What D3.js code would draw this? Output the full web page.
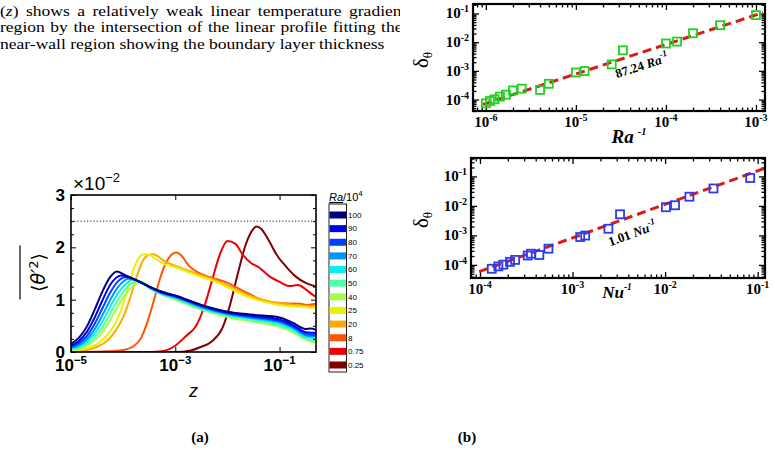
<!DOCTYPE html>
<html>
<head>
<meta charset="utf-8">
<script src="https://cdn.jsdelivr.net/npm/d3@7"></script>
<style>
  body { margin: 0; background: #fff; }
  text { fill: #000; }
</style>
</head>
<body>
<svg id="fig" width="775" height="450"></svg>
<script>
// ---------------- data ----------------
const bodyLines = [
  ['(', 'z', ') shows a relatively weak linear temperature gradient in the bulk'],
  ['', '', 'region by the intersection of the linear profile fitting the bulk and the'],
  ['', '', 'near-wall region showing the boundary layer thickness']
];
const bodySpacing = [2.6, 1.0, 0]; // justified text: extra word spacing per line

// panel (a): colour legend, Ra/10^4
const raLabels = ['100', '90', '80', '70', '60', '50', '40', '25', '20', '8', '0.75', '0.25'];
const raColors = ['#00007f', '#0000f0', '#0040ff', '#0094ff', '#08eeee', '#50ffa8',
                  '#a0ff48', '#eaf200', '#ffaa00', '#ff5500', '#ee0000', '#800000'];

// <θ'²> profiles (×10^-2) as [log10 z, value]
const prof100 = [[-5.0,0.16],[-4.85,0.27],[-4.7,0.48],[-4.55,0.80],[-4.4,1.15],[-4.25,1.43],[-4.12,1.54],[-3.98,1.48],[-3.85,1.42],[-3.7,1.35],[-3.5,1.25],[-3.25,1.15],[-3.0,1.08],[-2.5,0.90],[-2.0,0.77],[-1.5,0.71],[-1.0,0.66],[-0.75,0.56],[-0.5,0.44],[-0.4,0.45],[-0.3,0.42]];
const prof90 = [[-5.0,0.12],[-4.85,0.21],[-4.7,0.38],[-4.55,0.65],[-4.4,0.98],[-4.25,1.28],[-4.1,1.44],[-4.02,1.46],[-3.9,1.43],[-3.75,1.37],[-3.5,1.25],[-3.25,1.14],[-3.0,1.07],[-2.5,0.89],[-2.0,0.76],[-1.5,0.69],[-1.0,0.62],[-0.75,0.52],[-0.5,0.38],[-0.4,0.37],[-0.3,0.36]];
const prof80 = [[-5.0,0.10],[-4.85,0.17],[-4.7,0.30],[-4.55,0.53],[-4.4,0.83],[-4.25,1.13],[-4.1,1.35],[-3.96,1.43],[-3.85,1.41],[-3.7,1.35],[-3.5,1.24],[-3.25,1.13],[-3.0,1.06],[-2.5,0.88],[-2.0,0.74],[-1.5,0.67],[-1.0,0.59],[-0.75,0.49],[-0.5,0.35],[-0.4,0.33],[-0.3,0.32]];
const prof70 = [[-5.0,0.08],[-4.85,0.13],[-4.7,0.24],[-4.55,0.43],[-4.4,0.70],[-4.25,0.99],[-4.1,1.24],[-3.97,1.37],[-3.88,1.40],[-3.75,1.37],[-3.5,1.24],[-3.25,1.12],[-3.0,1.05],[-2.5,0.86],[-2.0,0.73],[-1.5,0.65],[-1.0,0.57],[-0.75,0.47],[-0.5,0.32],[-0.4,0.30],[-0.3,0.29]];
const prof60 = [[-5.0,0.06],[-4.85,0.10],[-4.7,0.19],[-4.55,0.35],[-4.4,0.58],[-4.25,0.86],[-4.1,1.12],[-3.95,1.30],[-3.82,1.38],[-3.7,1.36],[-3.5,1.24],[-3.25,1.11],[-3.0,1.03],[-2.5,0.84],[-2.0,0.71],[-1.5,0.63],[-1.0,0.54],[-0.75,0.44],[-0.5,0.29],[-0.4,0.27],[-0.3,0.26]];
const prof50 = [[-5.0,0.05],[-4.85,0.08],[-4.7,0.15],[-4.55,0.28],[-4.4,0.47],[-4.25,0.73],[-4.1,1.00],[-3.95,1.21],[-3.82,1.32],[-3.74,1.35],[-3.62,1.33],[-3.5,1.22],[-3.25,1.10],[-3.0,1.02],[-2.5,0.83],[-2.0,0.69],[-1.5,0.61],[-1.0,0.51],[-0.75,0.41],[-0.5,0.26],[-0.4,0.23],[-0.3,0.22]];
const prof40 = [[-5.0,0.04],[-4.85,0.06],[-4.7,0.12],[-4.55,0.22],[-4.4,0.38],[-4.25,0.61],[-4.1,0.88],[-3.95,1.11],[-3.8,1.27],[-3.68,1.33],[-3.58,1.31],[-3.45,1.20],[-3.25,1.09],[-3.0,1.00],[-2.5,0.81],[-2.0,0.67],[-1.5,0.58],[-1.0,0.48],[-0.75,0.38],[-0.5,0.24],[-0.4,0.20],[-0.3,0.18]];
const prof25 = [[-5.0,0.02],[-4.7,0.07],[-4.5,0.15],[-4.3,0.33],[-4.15,0.55],[-4.05,0.77],[-3.93,1.15],[-3.81,1.55],[-3.7,1.80],[-3.6,1.87],[-3.5,1.86],[-3.4,1.80],[-3.25,1.70],[-3.0,1.62],[-2.6,1.47],[-2.2,1.33],[-1.9,1.19],[-1.6,1.05],[-1.3,0.96],[-1.0,0.90],[-0.7,0.87],[-0.5,0.86],[-0.3,0.84]];
const prof20 = [[-5.0,0.01],[-4.7,0.04],[-4.5,0.10],[-4.3,0.22],[-4.15,0.40],[-4.0,0.66],[-3.85,1.08],[-3.72,1.50],[-3.6,1.78],[-3.5,1.86],[-3.42,1.87],[-3.32,1.82],[-3.2,1.73],[-3.0,1.65],[-2.6,1.50],[-2.2,1.36],[-1.9,1.23],[-1.6,1.09],[-1.3,0.99],[-1.0,0.93],[-0.7,0.90],[-0.5,0.88],[-0.3,0.87]];
const prof8 = [[-5.0,0.0],[-4.4,0.01],[-4.0,0.04],[-3.8,0.11],[-3.65,0.28],[-3.5,0.68],[-3.4,1.02],[-3.3,1.38],[-3.18,1.70],[-3.06,1.87],[-2.98,1.90],[-2.88,1.84],[-2.75,1.66],[-2.6,1.54],[-2.4,1.45],[-2.2,1.39],[-2.0,1.32],[-1.8,1.22],[-1.6,1.12],[-1.4,1.02],[-1.2,0.96],[-0.9,0.93],[-0.6,0.92],[-0.45,0.90],[-0.3,0.92]];
const prof075 = [[-5.0,0.0],[-3.6,0.0],[-3.3,0.01],[-3.0,0.12],[-2.8,0.30],[-2.6,0.50],[-2.45,0.85],[-2.3,1.35],[-2.15,1.85],[-2.0,2.12],[-1.85,2.07],[-1.7,1.85],[-1.55,1.70],[-1.4,1.62],[-1.2,1.45],[-1.0,1.34],[-0.8,1.26],[-0.65,1.28],[-0.5,1.20],[-0.4,1.12],[-0.3,1.05]];
const prof025 = [[-5.0,0.0],[-3.0,0.0],[-2.7,0.03],[-2.5,0.10],[-2.3,0.20],[-2.1,0.45],[-1.95,0.90],[-1.8,1.50],[-1.65,2.05],[-1.52,2.33],[-1.44,2.40],[-1.35,2.35],[-1.2,2.12],[-1.05,1.85],[-0.9,1.66],[-0.7,1.45],[-0.5,1.32],[-0.3,1.25]];
const profiles = [prof100, prof90, prof80, prof70, prof60, prof50, prof40, prof25, prof20, prof8, prof075, prof025];
const refLevel = 2.5;
const yTicksA = [0, 1, 2, 3];
const xTicksA = [-5, -3, -1];

// panel (b): boundary-layer thickness
const raInv = [1.0e-6, 1.11e-6, 1.25e-6, 1.43e-6, 1.67e-6, 2.0e-6, 2.5e-6, 4.0e-6, 5.0e-6,
               1.0e-5, 1.25e-5, 2.5e-5, 3.33e-5, 1.0e-4, 1.33e-4, 2.0e-4, 4.0e-4, 1.0e-3];
const nuInv = [1.34e-4, 1.58e-4, 1.79e-4, 2.11e-4, 2.40e-4, 3.28e-4, 3.56e-4, 4.38e-4, 5.49e-4,
               1.21e-3, 1.37e-3, 2.44e-3, 3.26e-3, 1.02e-2, 1.28e-2, 1.83e-2, 3.33e-2, 8.3e-2];
const deltaTheta = [7.4e-5, 8.9e-5, 1.02e-4, 1.27e-4, 1.48e-4, 2.08e-4, 2.4e-4, 2.17e-4, 3.55e-4,
                    8.8e-4, 9.9e-4, 1.68e-3, 5.2e-3, 9.0e-3, 1.05e-2, 2.05e-2, 3.9e-2, 8.8e-2];
const fitRa = [[9.3e-7, 6.8e-5], [1.2e-3, 0.107]];
const fitNu = [[9.8e-5, 5.9e-5], [0.12, 0.19]];
const fitRaLabel = { at: [5.6e-5, 1.1e-3], num: '87.24 ', sym: 'Ra', exp: '-1' };
const fitNuLabel = { at: [4.6e-3, 8.4e-4], num: '1.01 ', sym: 'Nu', exp: '-1' };

// ---------------- drawing ----------------
const svg = d3.select('#fig');
const SANS = 'Liberation Sans, Arial, Helvetica, sans-serif';
const SERIF = 'Liberation Serif, Times New Roman, serif';

// text with a raised exponent
function supText(g, x, y, base, sup, o) {
  const t = g.append('text')
    .attr('x', x).attr('y', y)
    .attr('text-anchor', o.anchor || 'middle')
    .attr('font-family', o.family)
    .attr('font-weight', o.weight || 'normal')
    .attr('font-size', o.size)
    .attr('fill', o.fill || '#000');
  t.append('tspan').attr('font-style', o.baseStyle || 'normal').text(base);
  t.append('tspan').attr('dy', -o.rise).attr('font-size', o.supSize)
    .attr('font-style', o.supStyle || 'normal').text(sup);
  return t;
}

// body text, cut off by the figure on the right
svg.append('clipPath').attr('id', 'clipText')
  .append('rect').attr('x', 0).attr('y', 0).attr('width', 400).attr('height', 60);
const gText = svg.append('g').attr('clip-path', 'url(#clipText)')
  .append('g').attr('transform', 'scale(1.17,1)');
bodyLines.forEach((l, i) => {
  const t = gText.append('text')
    .attr('x', 0).attr('y', 16 + i * 16.3)
    .attr('word-spacing', bodySpacing[i])
    .attr('font-family', SERIF).attr('font-size', 15);
  t.append('tspan').text(l[0]);
  t.append('tspan').attr('font-style', 'italic').text(l[1]);
  t.append('tspan').text(l[2]);
});

// ---------- panel (a) ----------
const A = { left: 71, right: 316, top: 195, bottom: 352 };
const xa = d3.scaleLog([1e-5, 0.5], [A.left, A.right]);
const ya = d3.scaleLinear([0, 3], [A.bottom, A.top]);
const ga = svg.append('g');

ga.append('clipPath').attr('id', 'clipA').append('rect')
  .attr('x', A.left).attr('y', A.top)
  .attr('width', A.right - A.left).attr('height', A.bottom - A.top);

ga.append('line')
  .attr('x1', A.left).attr('x2', A.right)
  .attr('y1', ya(refLevel)).attr('y2', ya(refLevel))
  .attr('stroke', '#222').attr('stroke-width', 1).attr('stroke-dasharray', '1.2,2');

const lineA = d3.line()
  .x((d) => xa(Math.pow(10, d[0])))
  .y((d) => ya(d[1]))
  .curve(d3.curveMonotoneX);

ga.append('g').attr('clip-path', 'url(#clipA)')
  .selectAll('path')
  .data(profiles.map((p, i) => ({ p, c: raColors[i] })).reverse())
  .join('path')
  .attr('d', (d) => lineA(d.p))
  .attr('fill', 'none')
  .attr('stroke', (d) => d.c)
  .attr('stroke-width', 2);

// axes (a)
const xTickVals = xTicksA.map((e) => Math.pow(10, e));
ga.append('g').attr('transform', `translate(0,${A.bottom})`)
  .call(d3.axisBottom(xa).tickValues(xTickVals).tickSize(-5).tickSizeOuter(0).tickFormat(''))
  .call((g) => g.select('.domain').remove());
ga.append('g').attr('transform', `translate(0,${A.top})`)
  .call(d3.axisTop(xa).tickValues(xTickVals).tickSize(-5).tickSizeOuter(0).tickFormat(''))
  .call((g) => g.select('.domain').remove());
const yMinorA = d3.range(0, 3.001, 0.25).filter((v) => v % 1 !== 0);
[[d3.axisLeft, A.left], [d3.axisRight, A.right]].forEach(([ax, pos]) => {
  ga.append('g').attr('transform', `translate(${pos},0)`)
    .call(ax(ya).tickValues(yTicksA).tickSize(-5).tickSizeOuter(0).tickFormat(''))
    .call((g) => g.select('.domain').remove());
  ga.append('g').attr('transform', `translate(${pos},0)`)
    .call(ax(ya).tickValues(yMinorA).tickSize(-3).tickSizeOuter(0).tickFormat(''))
    .call((g) => g.select('.domain').remove());
});
ga.selectAll('.tick line').attr('stroke', '#000').attr('stroke-width', 1);
ga.append('rect')
  .attr('x', A.left).attr('y', A.top)
  .attr('width', A.right - A.left).attr('height', A.bottom - A.top)
  .attr('fill', 'none').attr('stroke', '#000').attr('stroke-width', 1.6);

yTicksA.forEach((v) => {
  ga.append('text')
    .attr('x', A.left - 6).attr('y', ya(v) + 6)
    .attr('text-anchor', 'end')
    .attr('font-family', SANS).attr('font-weight', 'bold').attr('font-size', 17)
    .text(v);
});
xTicksA.forEach((e) => {
  supText(ga, xa(Math.pow(10, e)), A.bottom + 19, '10', '\u2212' + Math.abs(e),
    { family: SANS, weight: 'bold', size: 17, supSize: 11.5, rise: 7 });
});
supText(ga, A.left + 2, A.top - 5, '\u00d710', '\u22122',
  { family: SANS, size: 19, supSize: 13, rise: 8, anchor: 'start' });

// y label <θ'²> with overline
const yl = ga.append('g').attr('transform', `translate(45,${(A.top + A.bottom) / 2 - 1}) rotate(-90)`);
const ylt = yl.append('text')
  .attr('text-anchor', 'middle')
  .attr('font-family', 'DejaVu Sans, sans-serif').attr('font-size', 19);
ylt.append('tspan').text('\u27e8');
ylt.append('tspan').attr('font-style', 'italic').text('\u03b8\u2032');
ylt.append('tspan').attr('dy', -7).attr('font-size', 13).text('2');
ylt.append('tspan').attr('dy', 7).text('\u27e9');
yl.append('line').attr('x1', -27).attr('x2', 27).attr('y1', -25).attr('y2', -25)
  .attr('stroke', '#000').attr('stroke-width', 1.2);

ga.append('text')
  .attr('x', (A.left + A.right) / 2 + 0).attr('y', 397)
  .attr('text-anchor', 'middle')
  .attr('font-family', SANS).attr('font-style', 'italic').attr('font-size', 18)
  .text('z');

// colour legend
const CB = { x: 329, w: 17.5, top: 204, bottom: 372 };
const cbY = d3.scalePoint(raLabels, [215, 365]);
const gcb = ga.append('g');
gcb.append('rect')
  .attr('x', CB.x).attr('y', CB.top).attr('width', CB.w).attr('height', CB.bottom - CB.top)
  .attr('fill', '#fff').attr('stroke', '#222').attr('stroke-width', 1);
gcb.selectAll('rect.sw').data(raLabels).join('rect')
  .attr('class', 'sw')
  .attr('x', CB.x + 0.5).attr('width', CB.w - 1)
  .attr('y', (d) => cbY(d) - 3.5).attr('height', 7)
  .attr('fill', (d, i) => raColors[i]);
gcb.selectAll('text.lb').data(raLabels).join('text')
  .attr('class', 'lb')
  .attr('x', CB.x + CB.w + 1.5).attr('y', (d) => cbY(d) + 2.8)
  .attr('font-family', SANS).attr('font-size', 8)
  .text((d) => d);
const cbt = gcb.append('text')
  .attr('x', CB.x).attr('y', CB.top - 3)
  .attr('font-family', SANS).attr('font-size', 11);
cbt.append('tspan').attr('font-style', 'italic').attr('text-decoration', 'underline').text('Ra');
cbt.append('tspan').text('/10');
cbt.append('tspan').attr('dy', -5).attr('font-size', 8).text('4');

// ---------- panel (b) ----------
function logPanel(box, xDom, yDom, xs, ys, color, fit, fitLab, xTitle, yTitleY) {
  const g = svg.append('g');
  const x = d3.scaleLog(xDom, [box.left, box.right]);
  const y = d3.scaleLog(yDom, [box.bottom, box.top]);
  const isMajor = (t) => Math.abs(Math.log10(t) - Math.round(Math.log10(t))) < 1e-6;
  const xMaj = x.ticks().filter(isMajor), xMin = x.ticks().filter((t) => !isMajor(t));
  const yMaj = y.ticks().filter(isMajor), yMin = y.ticks().filter((t) => !isMajor(t));

  const axes = [
    [d3.axisBottom, x, `translate(0,${box.bottom})`, xMaj, xMin],
    [d3.axisTop, x, `translate(0,${box.top})`, xMaj, xMin],
    [d3.axisLeft, y, `translate(${box.left},0)`, yMaj, yMin],
    [d3.axisRight, y, `translate(${box.right},0)`, yMaj, yMin]
  ];
  axes.forEach(([ax, sc, tr, maj, min]) => {
    g.append('g').attr('transform', tr)
      .call(ax(sc).tickValues(maj).tickSize(-6).tickSizeOuter(0).tickFormat(''))
      .call((s) => s.select('.domain').remove());
    g.append('g').attr('transform', tr)
      .call(ax(sc).tickValues(min).tickSize(-3.5).tickSizeOuter(0).tickFormat(''))
      .call((s) => s.select('.domain').remove());
  });
  g.selectAll('.tick line').attr('stroke', '#000').attr('stroke-width', 1.3);

  // fit line
  g.append('path')
    .attr('d', d3.line().x((d) => x(d[0])).y((d) => y(d[1]))(fit))
    .attr('fill', 'none').attr('stroke', '#dd1a1a').attr('stroke-width', 3)
    .attr('stroke-dasharray', '9,5');

  // markers
  g.selectAll('rect.pt').data(xs).join('rect')
    .attr('class', 'pt')
    .attr('x', (d) => x(d) - 4).attr('y', (d, i) => y(ys[i]) - 4)
    .attr('width', 8).attr('height', 8)
    .attr('fill', 'none').attr('stroke', color).attr('stroke-width', 1.8);

  // frame
  g.append('rect')
    .attr('x', box.left).attr('y', box.top)
    .attr('width', box.right - box.left).attr('height', box.bottom - box.top)
    .attr('fill', 'none').attr('stroke', '#000').attr('stroke-width', 2.2);

  // tick labels
  const lab = { family: SERIF, weight: 'bold', size: 15, supSize: 10, rise: 6 };
  xMaj.forEach((t) => supText(g, x(t), box.bottom + 16, '10', String(Math.round(Math.log10(t))), lab));
  yMaj.forEach((t) => supText(g, box.left - 4, y(t) + 5, '10', String(Math.round(Math.log10(t))),
    { ...lab, anchor: 'end' }));

  // fit label, rotated along the line
  const ang = Math.atan2(y(fit[1][1]) - y(fit[0][1]), x(fit[1][0]) - x(fit[0][0])) * 180 / Math.PI;
  const ft = g.append('text')
    .attr('transform', `translate(${x(fitLab.at[0])},${y(fitLab.at[1])}) rotate(${ang})`)
    .attr('text-anchor', 'middle')
    .attr('font-family', SERIF).attr('font-weight', 'bold').attr('font-size', 13)
    .attr('fill', '#cc1e1e');
  ft.append('tspan').text(fitLab.num);
  ft.append('tspan').attr('font-style', 'italic').text(fitLab.sym);
  ft.append('tspan').attr('dy', -6).attr('font-size', 9).attr('font-style', 'italic').text(fitLab.exp);

  // axis titles
  const xt = g.append('text')
    .attr('x', xTitle.x).attr('y', xTitle.y)
    .attr('text-anchor', 'middle')
    .attr('font-family', SERIF).attr('font-weight', 'bold').attr('font-style', 'italic')
    .attr('font-size', xTitle.size);
  xt.append('tspan').text(xTitle.sym);
  xt.append('tspan').attr('dx', xTitle.gap).attr('dy', -8).attr('font-size', xTitle.size * 0.55).text('-1');

  const yt = g.append('text')
    .attr('transform', `translate(428,${yTitleY}) rotate(-90)`)
    .attr('text-anchor', 'middle')
    .attr('font-family', SERIF).attr('font-size', 21);
  yt.append('tspan').text('\u03b4');
  yt.append('tspan').attr('dy', 4).attr('font-size', 13).text('\u03b8');
  return g;
}

logPanel({ left: 473, right: 765, top: 4, bottom: 111 }, [7.2e-7, 1.26e-3], [4.0e-5, 0.214],
  raInv, deltaTheta, '#1ed31e', fitRa, fitRaLabel,
  { x: 629, y: 143, sym: 'Ra', size: 19, gap: 4 }, 60);
logPanel({ left: 471, right: 765, top: 158, bottom: 278 }, [8e-5, 0.12], [3.6e-5, 0.42],
  nuInv, deltaTheta, '#2a3cf0', fitNu, fitNuLabel,
  { x: 617, y: 298, sym: 'Nu', size: 17, gap: 0 }, 220);

// panel captions
[['(a)', 200], ['(b)', 467]].forEach(([s, x]) => {
  svg.append('text')
    .attr('x', x).attr('y', 442)
    .attr('text-anchor', 'middle')
    .attr('font-family', SERIF).attr('font-weight', 'bold').attr('font-size', 15)
    .text(s);
});
</script>
</body>
</html>
